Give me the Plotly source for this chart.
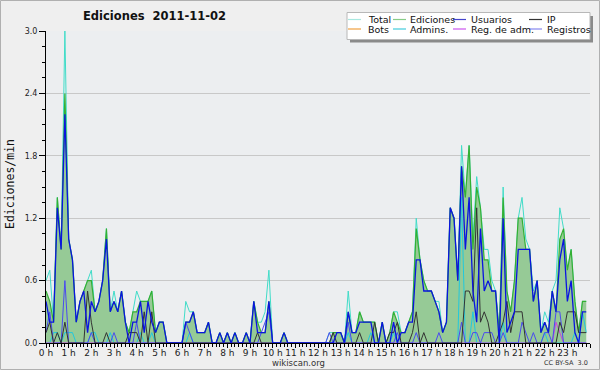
import plotly.graph_objects as go

# ---- data: edits per minute, 10-minute buckets (6 per hour, 144 points) ----
total = [
    0.6, 0.7, 0.2, 1.4, 0.9, 3.0,   # 0 h
    1.0, 0.8, 0.2, 0.4, 0.5, 0.6,   # 1 h
    0.7, 0.3, 0.4, 0.6, 1.1, 0.3,   # 2 h
    0.5, 0.3, 0.5, 0.2, 0.1, 0.3,   # 3 h
    0.5, 0.4, 0.4, 0.4, 0.5, 0.1,   # 4 h
    0.2, 0.2, 0.0, 0.0, 0.0, 0.0,   # 5 h
    0.0, 0.4, 0.3, 0.3, 0.1, 0.1,   # 6 h
    0.1, 0.2, 0.0, 0.0, 0.1, 0.0,   # 7 h
    0.1, 0.0, 0.1, 0.0, 0.0, 0.1,   # 8 h
    0.0, 0.4, 0.2, 0.2, 0.3, 0.7,   # 9 h
    0.0, 0.0, 0.0, 0.1, 0.0, 0.0,   # 10 h
    0.0, 0.0, 0.0, 0.0, 0.0, 0.0,   # 11 h
    0.0, 0.0, 0.0, 0.1, 0.1, 0.1,   # 12 h
    0.1, 0.0, 0.5, 0.1, 0.1, 0.3,   # 13 h
    0.2, 0.2, 0.2, 0.2, 0.0, 0.2,   # 14 h
    0.0, 0.1, 0.3, 0.3, 0.1, 0.1,   # 15 h
    0.2, 0.3, 1.2, 0.8, 0.6, 0.5,   # 16 h
    0.5, 0.4, 0.4, 0.1, 0.2, 1.3,   # 17 h
    1.2, 0.6, 1.9, 1.4, 1.9, 1.0,   # 18 h
    1.6, 1.3, 0.9, 0.9, 0.6, 0.5,   # 19 h
    0.1, 1.5, 0.5, 0.3, 0.6, 1.2,   # 20 h
    1.4, 1.0, 0.9, 0.5, 0.6, 0.1,   # 21 h
    0.3, 0.2, 0.5, 0.6, 1.3, 1.1,   # 22 h
    0.7, 0.9, 0.4, 0.1, 0.4, 0.4,   # 23 h
]
ediciones = [
    0.5, 0.4, 0.2, 1.4, 0.9, 2.4,
    1.0, 0.8, 0.2, 0.4, 0.5, 0.6,
    0.6, 0.3, 0.4, 0.6, 1.1, 0.3,
    0.4, 0.3, 0.5, 0.2, 0.1, 0.3,
    0.3, 0.4, 0.4, 0.4, 0.5, 0.1,
    0.2, 0.2, 0.0, 0.0, 0.0, 0.0,
    0.0, 0.2, 0.2, 0.3, 0.1, 0.1,
    0.1, 0.2, 0.0, 0.0, 0.1, 0.0,
    0.1, 0.0, 0.1, 0.0, 0.0, 0.1,
    0.0, 0.4, 0.2, 0.1, 0.1, 0.4,
    0.0, 0.0, 0.0, 0.1, 0.0, 0.0,
    0.0, 0.0, 0.0, 0.0, 0.0, 0.0,
    0.0, 0.0, 0.0, 0.0, 0.1, 0.1,
    0.1, 0.0, 0.3, 0.1, 0.1, 0.3,
    0.2, 0.2, 0.2, 0.2, 0.0, 0.2,
    0.0, 0.1, 0.3, 0.2, 0.1, 0.1,
    0.2, 0.3, 1.1, 0.8, 0.6, 0.5,
    0.5, 0.4, 0.3, 0.1, 0.2, 1.3,
    1.2, 0.6, 1.7, 1.4, 1.9, 0.9,
    1.5, 1.3, 0.8, 0.8, 0.5, 0.5,
    0.1, 1.4, 0.5, 0.3, 0.6, 1.2,
    1.2, 0.9, 0.9, 0.4, 0.6, 0.1,
    0.2, 0.1, 0.5, 0.3, 1.0, 1.1,
    0.7, 0.9, 0.4, 0.1, 0.4, 0.4,
]
usuarios = [
    0.4, 0.2, 0.2, 1.3, 0.9, 2.2,
    1.0, 0.8, 0.2, 0.4, 0.5, 0.1,
    0.4, 0.3, 0.4, 0.6, 1.0, 0.3,
    0.4, 0.3, 0.5, 0.2, 0.0, 0.2,
    0.2, 0.4, 0.1, 0.4, 0.2, 0.1,
    0.2, 0.2, 0.0, 0.0, 0.0, 0.0,
    0.0, 0.2, 0.2, 0.3, 0.1, 0.1,
    0.1, 0.2, 0.0, 0.0, 0.1, 0.0,
    0.1, 0.0, 0.1, 0.0, 0.0, 0.1,
    0.0, 0.4, 0.1, 0.1, 0.1, 0.4,
    0.0, 0.0, 0.0, 0.1, 0.0, 0.0,
    0.0, 0.0, 0.0, 0.0, 0.0, 0.0,
    0.0, 0.0, 0.0, 0.0, 0.0, 0.1,
    0.1, 0.0, 0.3, 0.1, 0.1, 0.2,
    0.2, 0.2, 0.2, 0.0, 0.0, 0.2,
    0.0, 0.0, 0.2, 0.0, 0.1, 0.1,
    0.2, 0.2, 0.8, 0.8, 0.5, 0.5,
    0.5, 0.4, 0.3, 0.1, 0.2, 1.3,
    1.2, 0.6, 1.7, 0.9, 1.4, 0.5,
    0.2, 1.1, 0.5, 0.6, 0.5, 0.5,
    0.0, 1.2, 0.1, 0.2, 0.3, 0.9,
    0.9, 0.9, 0.9, 0.4, 0.6, 0.1,
    0.2, 0.1, 0.5, 0.3, 0.8, 1.0,
    0.4, 0.6, 0.1, 0.0, 0.3, 0.3,
]
ip = [
    0.1, 0.2, 0.0, 0.1, 0.0, 0.2,
    0.0, 0.0, 0.0, 0.0, 0.0, 0.5,
    0.2, 0.0, 0.0, 0.0, 0.1, 0.0,
    0.0, 0.0, 0.0, 0.0, 0.1, 0.1,
    0.1, 0.0, 0.3, 0.0, 0.3, 0.0,
    0.0, 0.0, 0.0, 0.0, 0.0, 0.0,
    0.0, 0.0, 0.0, 0.0, 0.0, 0.0,
    0.0, 0.0, 0.0, 0.0, 0.0, 0.0,
    0.0, 0.0, 0.0, 0.0, 0.0, 0.0,
    0.0, 0.0, 0.1, 0.0, 0.0, 0.0,
    0.0, 0.0, 0.0, 0.0, 0.0, 0.0,
    0.0, 0.0, 0.0, 0.0, 0.0, 0.0,
    0.0, 0.0, 0.0, 0.0, 0.1, 0.0,
    0.0, 0.0, 0.0, 0.0, 0.0, 0.1,
    0.0, 0.0, 0.0, 0.2, 0.0, 0.0,
    0.0, 0.1, 0.1, 0.2, 0.0, 0.0,
    0.0, 0.1, 0.3, 0.0, 0.1, 0.0,
    0.0, 0.0, 0.0, 0.0, 0.0, 0.0,
    0.0, 0.0, 0.0, 0.5, 0.5, 0.4,
    1.3, 0.2, 0.3, 0.2, 0.0, 0.0,
    0.1, 0.2, 0.4, 0.1, 0.3, 0.3,
    0.3, 0.0, 0.0, 0.0, 0.0, 0.0,
    0.0, 0.0, 0.0, 0.0, 0.2, 0.1,
    0.3, 0.3, 0.3, 0.1, 0.1, 0.1,
]
bots = [0.0] * 144
admins = [
    0.0, 0.0, 0.1, 0.1, 0.0, 0.1,
    0.1, 0.1, 0.0, 0.0, 0.0, 0.0,
    0.1, 0.1, 0.0, 0.0, 0.0, 0.1,
    0.0, 0.0, 0.0, 0.0, 0.0, 0.0,
    0.0, 0.1, 0.0, 0.0, 0.1, 0.0,
    0.0, 0.0, 0.0, 0.0, 0.0, 0.0,
    0.0, 0.0, 0.1, 0.0, 0.0, 0.0,
    0.0, 0.0, 0.0, 0.0, 0.0, 0.0,
    0.0, 0.0, 0.0, 0.0, 0.0, 0.0,
    0.0, 0.0, 0.0, 0.0, 0.0, 0.0,
    0.0, 0.0, 0.0, 0.0, 0.0, 0.0,
    0.0, 0.0, 0.0, 0.0, 0.0, 0.0,
    0.0, 0.0, 0.0, 0.0, 0.0, 0.0,
    0.0, 0.0, 0.1, 0.0, 0.0, 0.0,
    0.0, 0.0, 0.1, 0.0, 0.0, 0.0,
    0.0, 0.0, 0.1, 0.0, 0.0, 0.0,
    0.0, 0.0, 0.0, 0.0, 0.0, 0.0,
    0.0, 0.0, 0.0, 0.0, 0.0, 0.0,
    0.0, 0.0, 1.4, 0.0, 0.0, 0.3,
    0.0, 0.0, 0.0, 0.0, 0.0, 0.0,
    0.0, 0.2, 0.0, 0.0, 0.0, 0.0,
    0.0, 0.0, 0.0, 0.0, 0.0, 0.0,
    0.1, 0.0, 0.0, 0.0, 0.0, 0.0,
    0.0, 0.0, 0.1, 0.0, 0.3, 0.1,
]
reg_adm = [0.0] * 135 + [0.2, 0.1] + [0.0] * 7
registros = [
    0.1, 0.3, 0.0, 0.0, 0.0, 0.6,
    0.0, 0.0, 0.0, 0.0, 0.0, 0.0,
    0.1, 0.0, 0.0, 0.0, 0.0, 0.0,
    0.1, 0.0, 0.0, 0.0, 0.0, 0.0,
    0.2, 0.0, 0.0, 0.0, 0.0, 0.0,
    0.0, 0.0, 0.0, 0.0, 0.0, 0.0,
    0.0, 0.2, 0.1, 0.0, 0.0, 0.0,
    0.0, 0.0, 0.0, 0.0, 0.0, 0.0,
    0.0, 0.0, 0.0, 0.0, 0.0, 0.0,
    0.0, 0.0, 0.0, 0.1, 0.2, 0.3,
    0.0, 0.0, 0.0, 0.0, 0.0, 0.0,
    0.0, 0.0, 0.0, 0.0, 0.0, 0.0,
    0.0, 0.0, 0.0, 0.1, 0.0, 0.0,
    0.0, 0.0, 0.2, 0.0, 0.0, 0.0,
    0.0, 0.0, 0.0, 0.0, 0.0, 0.0,
    0.0, 0.0, 0.0, 0.1, 0.0, 0.0,
    0.0, 0.0, 0.1, 0.0, 0.0, 0.0,
    0.0, 0.0, 0.1, 0.0, 0.0, 0.0,
    0.0, 0.0, 0.2, 0.0, 0.0, 0.1,
    0.1, 0.0, 0.1, 0.1, 0.1, 0.0,
    0.0, 0.1, 0.0, 0.0, 0.0, 0.0,
    0.2, 0.1, 0.0, 0.1, 0.0, 0.0,
    0.1, 0.1, 0.0, 0.3, 0.3, 0.0,
    0.0, 0.0, 0.0, 0.0, 0.0, 0.0,
]
series_names = ["Total", "Ediciones", "Usuarios", "IP",
                "Bots", "Admins.", "Reg. de adm.", "Registros"]
title_text = "Ediciones  2011-11-02"
y_title = "Ediciones/min"

# time axis (hours), one point every 10 minutes
hours = [i / 6 for i in range(len(total))]

# ---- geometry helpers (pixel -> paper) ----
ML, MR, MT, MB = 46, 10, 31, 27
W, H = 600, 370
PW, PH = W - ML - MR, H - MT - MB


def px(x):
    return (x - ML) / PW


def py(y):
    return (H - MB - y) / PH


FONT = "DejaVu Sans"

fig = go.Figure()

fig.add_trace(go.Scatter(x=hours, y=bots, mode="lines", name="Bots",
                         line=dict(color="#f0a040", width=1)))
fig.add_trace(go.Scatter(x=hours, y=total, mode="lines", name="Total",
                         line=dict(color="#40dcc8", width=1)))
fig.add_trace(go.Scatter(x=hours, y=ediciones, mode="lines", name="Ediciones",
                         fill="tozeroy", fillcolor="rgb(150,202,150)",
                         line=dict(color="#33b033", width=1.2)))
fig.add_trace(go.Scatter(x=hours, y=admins, mode="lines", name="Admins.",
                         line=dict(color="#22c8dd", width=1)))
fig.add_trace(go.Scatter(x=hours, y=reg_adm, mode="lines", name="Reg. de adm.",
                         line=dict(color="#cc44dd", width=1)))
fig.add_trace(go.Scatter(x=hours, y=registros, mode="lines", name="Registros",
                         line=dict(color="#4a4af0", width=1)))
fig.add_trace(go.Scatter(x=hours, y=ip, mode="lines", name="IP",
                         line=dict(color="#333333", width=1)))
fig.add_trace(go.Scatter(x=hours, y=usuarios, mode="lines", name="Usuarios",
                         line=dict(color="#0a14e0", width=1.3)))

shapes = []
annotations = []

# figure frame
shapes.append(dict(type="rect", xref="paper", yref="paper",
                   x0=px(0.5), x1=px(599.5), y0=py(369.5), y1=py(0.5),
                   line=dict(color="#b0b0b0", width=1), layer="below"))

# legend box (shadow + box)
shapes.append(dict(type="rect", xref="paper", yref="paper",
                   x0=px(350), x1=px(593), y0=py(42.5), y1=py(16),
                   fillcolor="#8a8a8a", line=dict(width=0)))
shapes.append(dict(type="rect", xref="paper", yref="paper",
                   x0=px(347), x1=px(590), y0=py(39.5), y1=py(12.5),
                   fillcolor="white", line=dict(color="#b8b8b8", width=1)))

legend_colors = ["#a8e8e0", "#88cc88", "#4444cc", "#333333",
                 "#f0a040", "#44ccdd", "#cc55ee", "#8888ee"]
line_x0 = [348, 393, 453, 529]
text_x = [366, 408, 469, 545]
row_y = [19.5, 29]
for k, name in enumerate(series_names):
    r, c = divmod(k, 4)
    yy = py(row_y[r])
    shapes.append(dict(type="line", xref="paper", yref="paper",
                       x0=px(line_x0[c]), x1=px(line_x0[c] + 13), y0=yy, y1=yy,
                       line=dict(color=legend_colors[k], width=1.2)))
    annotations.append(dict(text=name, xref="paper", yref="paper",
                            x=px(text_x[c]), y=yy, xanchor="left", yanchor="middle",
                            showarrow=False,
                            font=dict(family=FONT, size=9.5, color="#111")))

# title
annotations.append(dict(text="<b>" + title_text + "</b>", xref="paper", yref="paper",
                        x=px(154), y=py(16.5), xanchor="center", yanchor="middle",
                        showarrow=False,
                        font=dict(family=FONT, size=11.5, color="#111")))
# y-axis title
annotations.append(dict(text=y_title, xref="paper", yref="paper",
                        x=px(10), y=py(184), xanchor="center", yanchor="middle",
                        textangle=-90, showarrow=False,
                        font=dict(family="DejaVu Sans Mono", size=11.5, color="#111")))
# footer
annotations.append(dict(text="wikiscan.org", xref="paper", yref="paper",
                        x=px(298), y=py(362.5), xanchor="center", yanchor="middle",
                        showarrow=False,
                        font=dict(family=FONT, size=8.5, color="#333")))
annotations.append(dict(text="CC BY-SA  3.0", xref="paper", yref="paper",
                        x=px(590), y=py(363), xanchor="right", yanchor="middle",
                        showarrow=False,
                        font=dict(family=FONT, size=6.5, color="#333")))

fig.update_layout(
    width=W, height=H,
    margin=dict(l=ML, r=MR, t=MT, b=MB, pad=0),
    paper_bgcolor="#efefef",
    plot_bgcolor="#eceef0",
    showlegend=False,
    shapes=shapes,
    annotations=annotations,
    xaxis=dict(range=[0, 23.999], tickmode="linear", tick0=0, dtick=1,
               ticksuffix=" h", showgrid=False, zeroline=False,
               showline=True, linecolor="black", linewidth=1,
               ticks="outside", ticklen=4, tickwidth=1, tickcolor="black",
               ticklabelstandoff=-3,
               minor=dict(dtick=1 / 6, ticks="outside", ticklen=3,
                          tickcolor="black", showgrid=False),
               tickfont=dict(family=FONT, size=9, color="#222")),
    yaxis=dict(range=[0, 3], tickmode="linear", tick0=0, dtick=0.6,
               tickformat=".1f", showgrid=True, gridcolor="#c8c8c8", gridwidth=1,
               zeroline=False, showline=True, linecolor="black", linewidth=1,
               ticks="outside", ticklen=6, tickwidth=1, tickcolor="black",
               minor=dict(dtick=0.15, ticks="outside", ticklen=3,
                          tickcolor="black", showgrid=False),
               tickfont=dict(family=FONT, size=8, color="#222")),
)

fig.write_html("out.html",
               config={"displayModeBar": False},
               post_script="document.body.style.margin='0';"
                           "document.body.style.overflow='hidden';")
